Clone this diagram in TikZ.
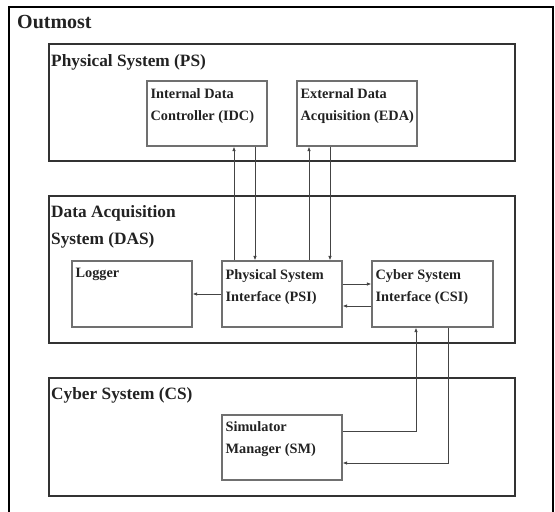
\documentclass[tikz,border=0pt]{standalone}
\usepackage{fontspec}
\setmainfont{Liberation Serif}
\usetikzlibrary{arrows.meta,calc}
\definecolor{txt}{HTML}{222222}
\definecolor{frame}{HTML}{333333}
\definecolor{inner}{HTML}{707070}
\definecolor{conn}{HTML}{444444}
\tikzset{
  outerbox/.style={draw=black,line width=2.6pt},
  groupbox/.style={draw=frame,line width=1.5pt,inner sep=0pt},
  compbox/.style={draw=inner,line width=1.1pt,inner sep=0pt,minimum width=120pt,minimum height=65pt},
  titletext/.style={anchor=base west,inner sep=0pt,text=txt,font=\fontsize{17.3}{20}\selectfont\bfseries},
  bigtitle/.style={anchor=base west,inner sep=0pt,text=txt,font=\fontsize{20}{24}\selectfont\bfseries},
  comptext/.style={anchor=base west,inner sep=0pt,text=txt,font=\fontsize{14.3}{17}\selectfont\bfseries},
  conn/.style={draw=conn,line width=0.9pt,-{Latex[length=4.5pt,width=3.5pt]}},
}
\begin{document}
\begin{tikzpicture}[x=1pt,y=-1pt]
\useasboundingbox (0,0) rectangle (555,512);
% outermost frame
\draw[outerbox] (9,515) -- (9,7) -- (553,7) -- (553,515);
\node[bigtitle] (outt) at (17,28) {Outmost};

% group boxes
\node[groupbox,minimum width=466pt,minimum height=117pt] (ps) at (282,102.5) {};
\node[titletext] (pst) at (51,66) {Physical System (PS)};
\node[groupbox,minimum width=466pt,minimum height=147pt] (das) at (282,269.5) {};
\node[titletext] (dast1) at (51,217) {Data Acquisition};
\node[titletext] (dast2) at (51,244) {System (DAS)};
\node[groupbox,minimum width=466pt,minimum height=118pt] (cs) at (282,437) {};
\node[titletext] (cst) at (51,399) {Cyber System (CS)};

% components
\node[compbox] (idc) at (207,113.5) {};
\node[comptext] (idct1) at ($(idc.north west)+(4,18)$) {Internal Data};
\node[comptext] (idct2) at ($(idc.north west)+(4,40)$) {Controller (IDC)};

\node[compbox] (eda) at (357,113.5) {};
\node[comptext] (edat1) at ($(eda.north west)+(4,18)$) {External Data};
\node[comptext] (edat2) at ($(eda.north west)+(4,40)$) {Acquisition (EDA)};

\node[compbox,minimum height=66pt] (log) at (132,294) {};
\node[comptext] (logt) at ($(log.north west)+(4,17)$) {Logger};

\node[compbox,minimum height=66pt] (psi) at (282,294) {};
\node[comptext] (psit1) at ($(psi.north west)+(4,19)$) {Physical System};
\node[comptext] (psit2) at ($(psi.north west)+(4,41)$) {Interface (PSI)};

\node[compbox,minimum width=121pt,minimum height=66pt] (csi) at (432.5,294) {};
\node[comptext] (csit1) at ($(csi.north west)+(4,19)$) {Cyber System};
\node[comptext] (csit2) at ($(csi.north west)+(4,41)$) {Interface (CSI)};

\node[compbox] (sm) at (282,447.5) {};
\node[comptext] (smt1) at ($(sm.north west)+(4,17)$) {Simulator};
\node[comptext] (smt2) at ($(sm.north west)+(4,39)$) {Manager (SM)};

% connectors
\draw[conn] (psi.north west -| 234,0) -- (idc.south west -| 234,0);
\draw[conn] (idc.south west -| 255,0) -- (psi.north west -| 255,0);
\draw[conn] (psi.north west -| 309,0) -- (eda.south west -| 309,0);
\draw[conn] (eda.south west -| 330,0) -- (psi.north west -| 330,0);
\draw[conn] (psi.west) -- (log.east);
\draw[conn] (psi.east |- 0,284) -- (csi.west |- 0,284);
\draw[conn] (csi.west |- 0,306) -- (psi.east |- 0,306);
\draw[conn] (sm.east |- 0,431) -- (416,431) -- (csi.south west -| 416,0);
\draw[conn] (csi.south west -| 448,0) -- (448,463) -- (sm.east |- 0,463);
\end{tikzpicture}
\end{document}
